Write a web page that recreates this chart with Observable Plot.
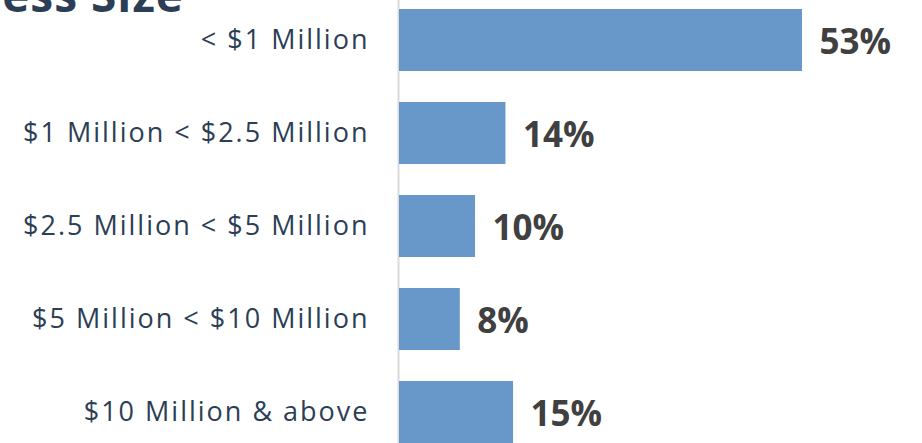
<!DOCTYPE html>
<html>
<head>
<meta charset="utf-8">
<script src="https://cdn.jsdelivr.net/npm/d3@7"></script>
<script src="https://cdn.jsdelivr.net/npm/@observablehq/plot@0.6"></script>
<style>
  html, body { margin: 0; padding: 0; background: #fff; }
  #wrap { position: relative; width: 922px; height: 443px; overflow: hidden; background: #fff; }
  #title { position: absolute; right: 738px; bottom: 426px; font-family: "Open Sans", sans-serif; font-weight: 700; font-size: 46px; line-height: 1; color: #2c3e55; white-space: nowrap; letter-spacing: 1px; }
  #chart { position: absolute; left: 0; top: -6px; }
  #chart g[aria-label="y-axis tick label"] text { letter-spacing: 2px; }
</style>
</head>
<body>
<div id="wrap">
  <div id="title">Business Size</div>
  <div id="chart"></div>
</div>
<script>
const categories = ["< $1 Million", "$1 Million < $2.5 Million", "$2.5 Million < $5 Million", "$5 Million < $10 Million", "$10 Million & above"];
const shares = [53, 14, 10, 8, 15];

const data = categories.map((c, i) => ({category: c, share: shares[i]}));

const chart = Plot.plot({
  width: 922,
  height: 465,
  marginLeft: 399,
  marginRight: 120,
  marginTop: 0,
  marginBottom: 0,
  style: {background: "transparent", overflow: "visible"},
  x: {domain: [0, 53], axis: null},
  y: {domain: categories, paddingInner: 0.33, paddingOuter: 0.165, label: null},
  marks: [
    Plot.axisY({tickSize: 0, tickPadding: 30, fontSize: 27, fill: "#2c3e55", label: null,
      fontFamily: "Open Sans, sans-serif"}),
    Plot.ruleX([0], {stroke: "#d9d9d9", strokeWidth: 2, dx: -1}),
    Plot.barX(data, {x: "share", y: "category", fill: "#6897c9"}),
    Plot.text(data, {x: "share", y: "category", text: d => d.share + "%", textAnchor: "start", dx: 17, dy: 2,
      fontSize: 35, fontWeight: "bold", fill: "#404040", fontFamily: "Open Sans, sans-serif"})
  ]
});
document.getElementById("chart").appendChild(chart);
</script>
</body>
</html>
